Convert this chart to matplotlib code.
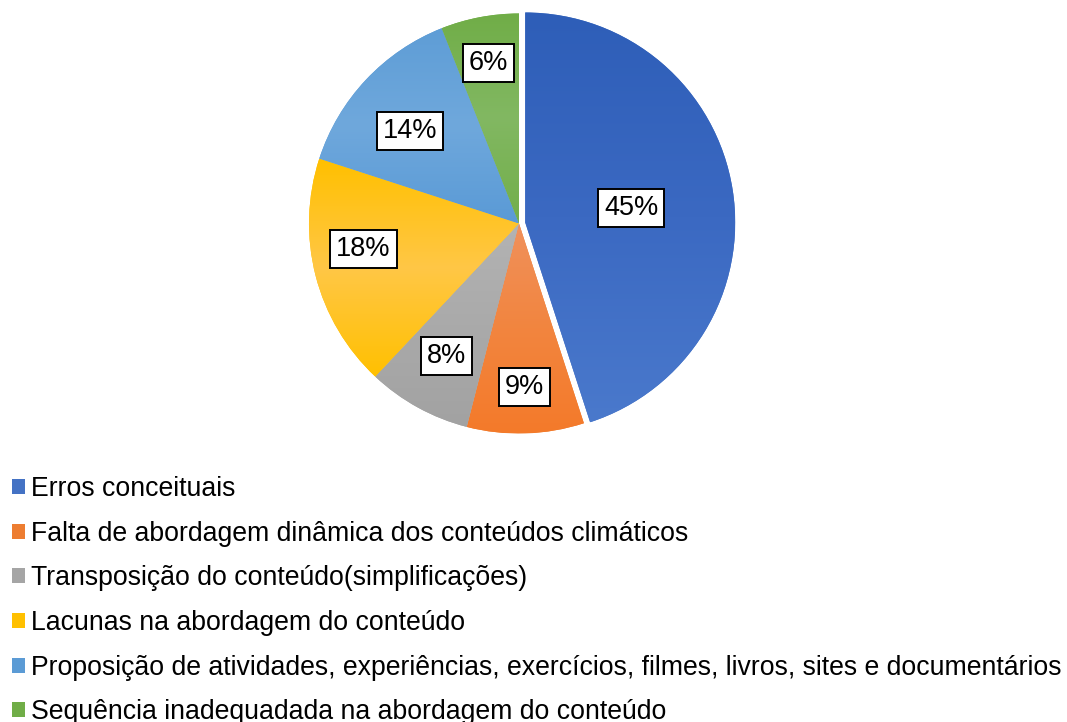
import numpy as np
import matplotlib
matplotlib.use('Agg')
import matplotlib.pyplot as plt
from matplotlib.colors import LinearSegmentedColormap
from matplotlib.patches import Patch

plt.rcParams['font.family'] = ['Liberation Sans', 'DejaVu Sans']

categories = [
    'Erros conceituais',
    'Falta de abordagem dinâmica dos conteúdos climáticos',
    'Transposição do conteúdo(simplificações)',
    'Lacunas na abordagem do conteúdo',
    'Proposição de atividades, experiências, exercícios, filmes, livros, sites e documentários',
    'Sequência inadequadada na abordagem do conteúdo',
]
values = [45, 9, 8, 18, 14, 6]
pct_labels = ['45%', '9%', '8%', '18%', '14%', '6%']

colors = ['#4472C4', '#ED7D31', '#A5A5A5', '#FFC000', '#5B9BD5', '#70AD47']
# top / middle / bottom of each slice's gradient
grad_stops = [
    ['#2E5EB8', '#3B69C2', '#4A79CC'],
    ['#F0915C', '#F2853F', '#F47A2A'],
    ['#B3B3B3', '#AAAAAA', '#A2A2A2'],
    ['#FFC000', '#FFC746', '#FFC000'],
    ['#5E9DD6', '#6FA8DC', '#5A9AD6'],
    ['#70AD47', '#82B862', '#72AE4A'],
]
# label placement (fraction of radius, angle tweak in degrees)
label_dist = [0.51, 0.78, 0.72, 0.75, 0.68, 0.78]
label_turn = [-1, 0, 0, -5, 3, 0]

fig = plt.figure(figsize=(10.67, 7.22), dpi=100)
W, H = 1067, 722
cx, cy, R = 519, 223.5, 210
half = 230
ax = fig.add_axes([(cx - half) / W, (H - cy - half) / H, 2 * half / W, 2 * half / H])

wedges, _ = ax.pie(values, colors=colors, startangle=90, counterclock=False,
                   explode=[0.03, 0, 0, 0, 0, 0], radius=1.0,
                   wedgeprops=dict(linewidth=0))

grad = np.linspace(0, 1, 256).reshape(-1, 1)
for w, stops in zip(wedges, grad_stops):
    cmap = LinearSegmentedColormap.from_list('g', stops)
    ext = w.get_path().get_extents()
    im = ax.imshow(grad, cmap=cmap, extent=[ext.x0, ext.x1, ext.y0, ext.y1],
                   origin='upper', aspect='auto', interpolation='bilinear',
                   zorder=w.get_zorder() + 0.1)
    im.set_clip_path(w)

for w, lab, d, t in zip(wedges, pct_labels, label_dist, label_turn):
    ang = np.deg2rad((w.theta1 + w.theta2) / 2 + t)
    x = w.center[0] + d * np.cos(ang)
    y = w.center[1] + d * np.sin(ang)
    ax.text(x, y, lab, ha='center', va='center', fontsize=19.5, zorder=10,
            bbox=dict(boxstyle='square,pad=0.22', fc='white', ec='black', lw=1.4))

lim = half / R
ax.set_xlim(-lim, lim)
ax.set_ylim(-lim, lim)
ax.set_aspect('equal')
ax.axis('off')

handles = [Patch(facecolor=c, edgecolor='none') for c in colors]
fig.legend(handles, categories, loc='upper left',
           bbox_to_anchor=(12 / W, 1 - 476 / H), frameon=False,
           fontsize=19.2, handlelength=0.49, handleheight=0.49,
           handletextpad=0.22, labelspacing=0.70, borderpad=0,
           borderaxespad=0)

fig.savefig('out.png', dpi=100, facecolor='white')
